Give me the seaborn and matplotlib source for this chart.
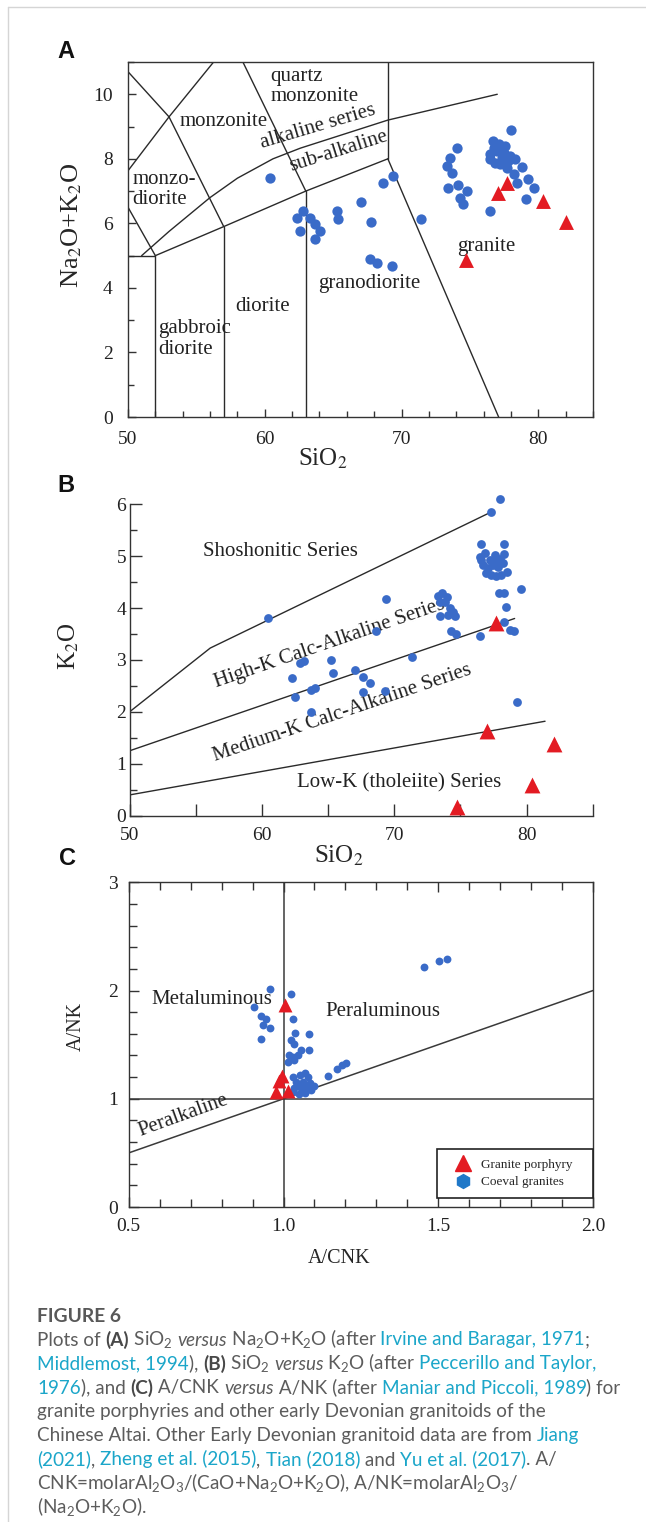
import matplotlib
matplotlib.use("Agg")
import matplotlib.pyplot as plt
import matplotlib.ticker as mticker
from matplotlib.lines import Line2D
import numpy as np
import pandas as pd
import seaborn as sns

# ============================ DATA ============================
# ---- Panel A : SiO2 vs Na2O+K2O ----
A_coeval_sio2 = [60.39, 62.82, 62.34, 62.58, 63.31, 63.68, 64.05, 63.68, 65.27, 65.38,
                 67.04, 67.75, 68.68, 69.41, 71.41, 67.70, 68.24, 69.33,
                 74.05, 73.56, 73.31, 73.68, 73.43, 74.16, 74.78, 74.29, 74.53, 76.48,
                 78.02, 76.68, 77.16, 76.48, 76.97, 77.46, 77.94, 78.31, 76.85, 77.21,
                 77.70, 78.80, 78.19, 78.43, 79.28, 79.65, 79.09, 76.48, 77.34, 77.58,
                 76.77, 77.80]
A_coeval_alk = [7.42, 6.39, 6.18, 5.77, 6.18, 5.98, 5.75, 5.52, 6.39, 6.13,
                6.65, 6.05, 7.24, 7.47, 6.13, 4.90, 4.76, 4.69,
                8.34, 8.03, 7.78, 7.57, 7.09, 7.19, 7.01, 6.80, 6.60, 6.39,
                8.89, 8.55, 8.45, 8.14, 8.24, 8.19, 8.09, 7.98, 7.88, 7.83,
                7.73, 7.75, 7.52, 7.26, 7.37, 7.11, 6.75, 7.98, 8.03, 8.40,
                8.33, 7.93]
A_porph_sio2 = [74.70, 77.09, 77.70, 80.31, 82.02]
A_porph_alk = [4.85, 6.95, 7.26, 6.70, 6.03]

# field boundaries (Middlemost 1994; Irvine & Baragar 1971)
A_bound_x = [[50, 52], [50, 52], [52, 52], [52, 57, 63, 69], [57, 57], [63, 63],
             [69, 77.1], [69, 69], [50, 53, 56.26], [50, 53], [53, 57], [58.4, 63],
             [51, 53, 56, 58, 60.6, 62.6, 69, 77]]
A_bound_y = [[5, 5], [6.5, 5], [0, 5], [5, 5.9, 7, 8], [0, 5.9], [0, 7],
             [8, 0], [8, 11], [7.63, 9.3, 11], [10.7, 9.3], [9.3, 5.9], [11, 7],
             [5.0, 5.75, 6.8, 7.4, 8.0, 8.33, 9.2, 10.0]]
A_fields = ["quartz\nmonzonite", "monzonite", "monzo-\ndiorite", "gabbroic\ndiorite",
            "diorite", "granodiorite", "granite"]
A_field_x = [60.39, 53.8, 50.3, 52.2, 57.83, 63.9, 74.07]
A_field_y = [10.25, 9.17, 7.04, 2.42, 3.43, 4.14, 5.28]
A_series = ["alkaline series", "sub-alkaline"]
A_series_x = [63.9, 65.36]
A_series_y = [8.98, 8.24]
A_series_rot = [16.5, 17.5]

# ---- Panel B : SiO2 vs K2O ----
B_coeval_sio2 = [60.43, 62.87, 63.19, 65.21, 65.34, 62.29, 62.54, 63.75, 64.00, 63.75,
                 67.02, 67.65, 68.15, 67.65, 69.28, 71.37, 79.30, 78.01, 77.34, 76.58,
                 78.29, 76.45, 76.83, 77.21, 77.58, 77.96, 78.26, 76.70, 77.08, 77.46,
                 77.83, 78.21, 76.96, 77.34, 77.71, 78.09, 78.51, 76.58, 77.71, 77.91,
                 78.29, 79.55, 78.42, 78.26, 78.77, 79.09, 76.45, 69.41, 73.31, 73.64,
                 74.02, 73.43, 73.81, 74.19, 74.44, 74.06, 74.57, 73.43, 74.32, 74.69,
                 68.60]
B_coeval_k2o = [3.80, 2.95, 2.98, 3.00, 2.74, 2.65, 2.28, 2.42, 2.47, 2.00,
                2.81, 2.67, 2.55, 2.38, 2.41, 3.06, 2.20, 6.10, 5.86, 5.23,
                5.23, 4.99, 5.06, 4.93, 5.02, 4.95, 5.04, 4.83, 4.77, 4.83,
                4.80, 4.87, 4.67, 4.64, 4.61, 4.64, 4.70, 4.93, 4.93, 4.30,
                4.30, 4.37, 4.02, 3.74, 3.58, 3.56, 3.47, 4.17, 4.23, 4.29,
                4.22, 4.12, 4.12, 4.00, 3.93, 3.87, 3.84, 3.84, 3.55, 3.51,
                3.55]
B_porph_sio2 = [77.66, 77.00, 82.06, 80.40, 74.74]
B_porph_k2o = [3.71, 1.64, 1.38, 0.59, 0.16]

# series boundaries (Peccerillo & Taylor 1976)
B_bound_x = [[50, 56.1, 77.4], [50, 79.1], [50, 81.4]]
B_bound_y = [[2.0, 3.23, 5.86], [1.25, 3.80], [0.40, 1.82]]
B_fields = ["Shoshonitic Series", "High-K Calc-Alkaline Series",
            "Medium-K Calc-Alkaline Series", "Low-K (tholeiite) Series"]
B_field_x = [55.55, 65.13, 66.11, 62.64]
B_field_y = [5.10, 3.31, 1.98, 0.63]
B_field_rot = [0, 19, 18.7, 0]

# ---- Panel C : A/CNK vs A/NK ----
C_coeval_acnk = [0.957, 1.025, 0.903, 0.928, 0.942, 0.933, 0.955, 0.926, 1.032, 1.037,
                 1.082, 1.025, 1.033, 1.057, 1.081, 1.017, 1.030, 1.046, 1.014, 1.035,
                 1.202, 1.189, 1.173, 1.143, 1.030, 1.052, 1.068, 1.078, 1.041, 1.062,
                 1.084, 1.052, 1.073, 1.035, 1.062, 1.030, 1.050, 1.070, 1.090, 1.100,
                 1.455, 1.502, 1.527]
C_coeval_ank = [2.013, 1.964, 1.850, 1.764, 1.733, 1.681, 1.656, 1.551, 1.736, 1.610,
                1.595, 1.542, 1.505, 1.450, 1.450, 1.404, 1.382, 1.404, 1.342, 1.357,
                1.327, 1.311, 1.271, 1.210, 1.203, 1.219, 1.235, 1.198, 1.157, 1.157,
                1.142, 1.111, 1.105, 1.096, 1.080, 1.060, 1.040, 1.050, 1.080, 1.120,
                2.219, 2.274, 2.290]
C_porph_acnk = [1.004, 0.995, 0.985, 0.975, 1.015]
C_porph_ank = [1.866, 1.21, 1.16, 1.06, 1.07]

# boundaries (Maniar & Piccoli 1989)
C_bound_x = [[1.0, 1.0], [0.5, 2.0], [0.5, 2.0]]
C_bound_y = [[0, 3], [1, 1], [0.5, 2.0]]
C_fields = ["Metaluminous", "Peraluminous", "Peralkaline"]
C_field_x = [0.572, 1.136, 0.675]
C_field_y = [1.92, 1.81, 0.84]
C_field_rot = [0, 0, 20]

legend_labels = ["Granite porphyry", "Coeval granites"]

# ============================ STYLE ============================
sns.set_style("white")
plt.rcParams["font.family"] = ["Liberation Serif", "DejaVu Serif"]
plt.rcParams["mathtext.fontset"] = "custom"
plt.rcParams["mathtext.rm"] = "Lato"
plt.rcParams["mathtext.it"] = "Lato:italic"
plt.rcParams["mathtext.bf"] = "Lato:bold"

BLUE = "#3a6bc8"
RED = "#e31b23"
LINE = "#2a2a2a"
SPINE = "#333333"
SERIF = ["Liberation Serif", "DejaVu Serif"]

W, H = 646, 1522
fig = plt.figure(figsize=(W / 100, H / 100), dpi=100)
fig.patch.set_facecolor("white")


def fpos(l, t, r, b):
    return [l / W, 1 - b / H, (r - l) / W, (b - t) / H]


axA = fig.add_axes(fpos(128, 62, 593, 417))
axB = fig.add_axes(fpos(129.5, 504.3, 592.7, 815.7))
axC = fig.add_axes(fpos(128.8, 882.3, 593, 1207))

for ax in (axA, axB, axC):
    ax.set_facecolor("white")
    for sp in ax.spines.values():
        sp.set_color(SPINE)
        sp.set_linewidth(1.0)

# ---------------- Panel A ----------------
axA.set_xlim(50, 84)
axA.set_ylim(0, 11)
for xs, ys in zip(A_bound_x, A_bound_y):
    axA.plot(xs, ys, color=LINE, lw=1.0, zorder=1)
sns.scatterplot(x=A_coeval_sio2, y=A_coeval_alk, ax=axA, color=BLUE, s=55,
                linewidth=0, zorder=3, legend=False)
sns.scatterplot(x=A_porph_sio2, y=A_porph_alk, ax=axA, color=RED, marker="^", s=115,
                linewidth=0, zorder=4, legend=False)
for t, x, y in zip(A_fields, A_field_x, A_field_y):
    axA.text(x, y, t, fontsize=15, ha="left", va="center", linespacing=1.1,
             color="#222222", family=SERIF, zorder=2)
for t, x, y, r in zip(A_series, A_series_x, A_series_y, A_series_rot):
    axA.text(x, y, t, fontsize=15, ha="center", va="center", rotation=r,
             rotation_mode="anchor", color="#222222", family=SERIF, zorder=2)
axA.xaxis.set_major_locator(mticker.FixedLocator([50, 60, 70, 80]))
axA.xaxis.set_minor_locator(mticker.MultipleLocator(2))
axA.yaxis.set_major_locator(mticker.MultipleLocator(2))
axA.yaxis.set_minor_locator(mticker.MultipleLocator(1))
axA.tick_params(which="both", direction="in", bottom=True, left=True, top=False,
                right=False, color=SPINE, width=1.0, labelsize=14, labelcolor="#222222")
axA.tick_params(which="major", length=6)
axA.tick_params(which="minor", length=4.3)
axA.tick_params(axis="x", pad=10)
axA.tick_params(axis="y", pad=11)
axA.set_xlabel("SiO$_2$", fontsize=18, math_fontfamily="stix", va="center")
axA.set_ylabel("Na$_2$O+K$_2$O", fontsize=19, math_fontfamily="stix", va="center")
axA.xaxis.set_label_coords(0.419, -0.118)
axA.yaxis.set_label_coords(-0.120, 0.541)

# ---------------- Panel B ----------------
axB.set_xlim(50, 85)
axB.set_ylim(0, 6)
axB.spines["top"].set_visible(False)
axB.spines["right"].set_visible(False)
for xs, ys in zip(B_bound_x, B_bound_y):
    axB.plot(xs, ys, color=LINE, lw=1.0, zorder=1)
sns.scatterplot(x=B_coeval_sio2, y=B_coeval_k2o, ax=axB, color=BLUE, s=40,
                linewidth=0, zorder=3, legend=False, clip_on=False)
sns.scatterplot(x=B_porph_sio2, y=B_porph_k2o, ax=axB, color=RED, marker="^", s=130,
                linewidth=0, zorder=4, legend=False, clip_on=False)
for t, x, y, r in zip(B_fields, B_field_x, B_field_y, B_field_rot):
    axB.text(x, y, t, fontsize=15, ha="left" if r == 0 else "center", va="center",
             rotation=r, rotation_mode="anchor", color="#222222", family=SERIF, zorder=2)
axB.xaxis.set_major_locator(mticker.MultipleLocator(5))
axB.xaxis.set_major_formatter(mticker.FuncFormatter(
    lambda v, p: f"{int(round(v))}" if round(v) % 10 == 0 else ""))
axB.yaxis.set_major_locator(mticker.MultipleLocator(1))
axB.yaxis.set_minor_locator(mticker.MultipleLocator(0.5))
axB.tick_params(which="both", direction="in", bottom=True, left=True, top=False,
                right=False, color=SPINE, width=1.0, labelsize=14, labelcolor="#222222")
axB.tick_params(which="major", length=8.5)
axB.tick_params(which="minor", length=5)
axB.tick_params(axis="x", pad=8)
axB.tick_params(axis="y", pad=2.5)
axB.set_xlabel("SiO$_2$", fontsize=18, math_fontfamily="stix", va="center")
axB.set_ylabel("K$_2$O", fontsize=18, math_fontfamily="stix", va="center")
axB.xaxis.set_label_coords(0.452, -0.129)
axB.yaxis.set_label_coords(-0.132, 0.543)

# ---------------- Panel C ----------------
axC.set_xlim(0.5, 2.0)
axC.set_ylim(0, 3)
for xs, ys in zip(C_bound_x, C_bound_y):
    axC.plot(xs, ys, color="#3a3a3a", lw=1.1, zorder=1)
sns.scatterplot(x=C_coeval_acnk, y=C_coeval_ank, ax=axC, color=BLUE, s=32,
                linewidth=0, zorder=3, legend=False)
sns.scatterplot(x=C_porph_acnk, y=C_porph_ank, ax=axC, color=RED, marker="^", s=100,
                linewidth=0, zorder=4, legend=False)
for t, x, y, r in zip(C_fields, C_field_x, C_field_y, C_field_rot):
    axC.text(x, y, t, fontsize=15, ha="left" if r == 0 else "center", va="center",
             rotation=r, rotation_mode="anchor", color="#222222", family=SERIF, zorder=2)
axC.xaxis.set_major_locator(mticker.FixedLocator([0.5, 1.0, 1.5, 2.0]))
axC.xaxis.set_minor_locator(mticker.MultipleLocator(0.1))
axC.xaxis.set_major_formatter(mticker.FormatStrFormatter("%.1f"))
axC.yaxis.set_major_locator(mticker.FixedLocator([0, 1, 2, 3]))
axC.yaxis.set_minor_locator(mticker.MultipleLocator(0.2))
axC.tick_params(which="both", direction="in", bottom=True, left=True, top=True,
                right=False, color=SPINE, width=1.0, labelsize=14, labelcolor="#222222")
axC.tick_params(which="major", length=7)
axC.tick_params(which="minor", length=5.5)
axC.tick_params(axis="both", pad=8)
axC.set_xlabel("A/CNK", fontsize=14.5, va="center")
axC.set_ylabel("A/NK", fontsize=14.5, va="center")
axC.xaxis.set_label_coords(0.452, -0.158)
axC.yaxis.set_label_coords(-0.113, 0.555)

handles = [Line2D([], [], marker="^", color=RED, ls="none", markersize=11),
           Line2D([], [], marker="h", color="#1f78c8", ls="none", markersize=10)]
leg = axC.legend(handles, legend_labels, loc="lower left",
                 bbox_to_anchor=(0.664, 0.027, 0.336, 0.147), mode="expand",
                 bbox_transform=axC.transAxes, frameon=True, fancybox=False,
                 borderaxespad=0, borderpad=0.75, handlelength=2.5, handletextpad=0.05,
                 labelspacing=0.4, prop={"family": SERIF, "size": 9.5})
leg.get_frame().set_edgecolor("#222222")
leg.get_frame().set_linewidth(1.2)
leg.get_frame().set_alpha(1)

# ---------------- panel letters ----------------
for lab, (px, py) in zip(["A", "B", "C"], [(66, 51), (66, 486), (67, 858)]):
    fig.text(px / W, 1 - py / H, lab, fontsize=17, weight="bold",
             family=["Liberation Sans", "DejaVu Sans"], ha="center", va="center",
             color="#111111")

# ---------------- page border ----------------
fig.add_artist(Line2D([8 / W, 8 / W], [0, 1 - 7 / H], color="#d5d5d5", lw=1.0,
                      transform=fig.transFigure))
fig.add_artist(Line2D([8 / W, 1], [1 - 7 / H, 1 - 7 / H], color="#d5d5d5", lw=1.0,
                      transform=fig.transFigure))

# ---------------- caption ----------------
CAP = ["Lato", "DejaVu Sans"]
STY = {
    "N": dict(color="#5c5c5c", family=CAP, weight="normal"),
    "B": dict(color="#484848", family=CAP, weight="bold"),
    "I": dict(color="#5c5c5c", family=CAP, style="italic", weight="normal"),
    "L": dict(color="#1ba6c9", family=CAP, weight="normal"),
}
renderer = fig.canvas.get_renderer()


def text_w(s, fs, st):
    t = fig.text(0, 0, s, fontsize=fs, **STY[st])
    w = t.get_window_extent(renderer=renderer).width
    t.remove()
    return w


def seg_w(s, fs, st):
    return text_w("|" + s + "|", fs, st) - text_w("||", fs, st)


cap_lines = [
    [("Plots of ", "N"), ("(A)", "B"), (" SiO$_2$ ", "N"), ("versus", "I"),
     (" Na$_2$O+K$_2$O (after ", "N"), ("Irvine and Baragar, 1971", "L"), (";", "N")],
    [("Middlemost, 1994", "L"), ("), ", "N"), ("(B)", "B"), (" SiO$_2$ ", "N"),
     ("versus", "I"), (" K$_2$O (after ", "N"), ("Peccerillo and Taylor,", "L")],
    [("1976", "L"), ("), and ", "N"), ("(C)", "B"), (" A/CNK ", "N"), ("versus", "I"),
     (" A/NK (after ", "N"), ("Maniar and Piccoli, 1989", "L"), (") for", "N")],
    [("granite porphyries and other early Devonian granitoids of the", "N")],
    [("Chinese Altai. Other Early Devonian granitoid data are from ", "N"), ("Jiang", "L")],
    [("(2021)", "L"), (", ", "N"), ("Zheng et al. (2015)", "L"), (", ", "N"),
     ("Tian (2018)", "L"), (" and ", "N"), ("Yu et al. (2017)", "L"), (". A/", "N")],
    [("CNK=molarAl$_2$O$_3$/(CaO+Na$_2$O+K$_2$O), A/NK=molarAl$_2$O$_3$/", "N")],
    [("(Na$_2$O+K$_2$O).", "N")],
]

X0 = 37
ref_w = seg_w(cap_lines[3][0][0], 12, "N")
cap_fs = 12 * 505 / ref_w

fig.text(X0 / W, 1 - (1316 + 6) / H, "FIGURE 6", fontsize=cap_fs * 1.02, weight="bold",
         color="#585858", family=CAP, ha="left", va="baseline")
for i, segs in enumerate(cap_lines):
    yb = 1340 + 24.0 * i + 5.5
    x = X0
    for s, st in segs:
        fig.text(x / W, 1 - yb / H, s, fontsize=cap_fs, ha="left", va="baseline", **STY[st])
        x += seg_w(s, cap_fs, st)

fig.savefig("out.png", dpi=100, facecolor="white")
